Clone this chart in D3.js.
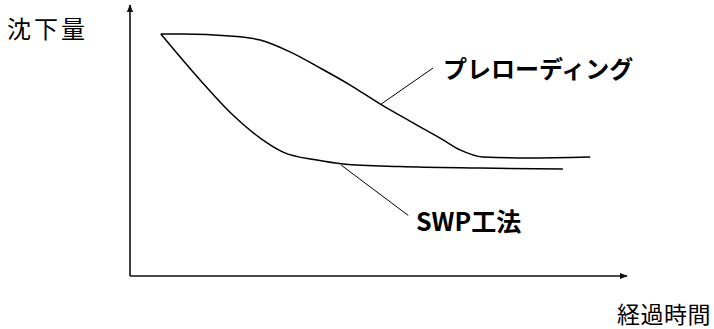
<!DOCTYPE HTML>
<html lang="ja">
<head>
<meta charset="utf-8">
<title>沈下量と経過時間</title>
<style>
html, body {
    margin: 0;
    background: #fff;
 }
svg text {
    font-family: "Noto Sans CJK JP", "Noto Sans", sans-serif;
    fill: #000;
 }
.curve {
    fill: none;
    stroke: #000;
    stroke-width: 1.5;
 }
.leader {
    stroke: #000;
    stroke-width: 1;
 }
.axis-line {
    stroke: #111;
    stroke-width: 1.6;
 }
</style>
</head>
<body>

<script src="https://cdnjs.cloudflare.com/ajax/libs/d3/7.8.5/d3.min.js"></script>
<script>
// data: time (0-100) vs settlement (0-100, grows downwards)
const preloadTime = [6.2, 10.7, 20.1, 26.2, 32.2, 38.2, 44.3, 50.3, 56.3, 62.4, 66.4, 71.0, 79.9, 92.6];
const preloadSettle = [0, 0, 0.8, 2.5, 7.4, 14.0, 21.1, 28.9, 36.0, 43.0, 47.9, 50.8, 51.2, 50.8];

const swpTime = [6.2, 14.1, 20.7, 26.2, 30.8, 37.6, 42.9, 54.3, 70.4, 87.1];
const swpSettle = [0, 19.0, 33.5, 43.0, 48.8, 52.1, 53.7, 54.8, 55.4, 55.8];

const seriesNames = ['プレローディング', 'SWP工法'];
const axisTitles = ['沈下量', '経過時間'];

// leader lines: [time, settle] on curve -> [time, settle] at label
const leaderFrom = [[50.3, 29.3], [42.5, 54.2]];
const leaderTo = [[61.0, 14.0], [56.0, 75.0]];

const width = 714, height = 329;
const x0 = 130, x1 = 627, yTop = 34, yBottom = 276;

const x = d3.scaleLinear().domain([0, 100]).range([x0, x1]);
const y = d3.scaleLinear().domain([0, 100]).range([yTop, yBottom]);

const svg = d3.select('body').append('svg')
  .attr('width', width)
  .attr('height', height);

svg.append('defs').append('marker')
  .attr('id', 'arrow')
  .attr('viewBox', '0 0 10 10')
  .attr('refX', 9).attr('refY', 5)
  .attr('markerWidth', 5).attr('markerHeight', 5)
  .attr('orient', 'auto')
  .append('path')
  .attr('d', 'M0,1 L10,5 L0,9 Z')
  .attr('fill', '#111');

// axes
svg.append('line').attr('class', 'axis-line')
  .attr('x1', x0).attr('y1', yBottom)
  .attr('x2', x0).attr('y2', 5)
  .attr('marker-end', 'url(#arrow)');
svg.append('line').attr('class', 'axis-line')
  .attr('x1', x0).attr('y1', yBottom)
  .attr('x2', x1).attr('y2', yBottom)
  .attr('marker-end', 'url(#arrow)');

const line = d3.line()
  .x(d => x(d[0]))
  .y(d => y(d[1]))
  .curve(d3.curveMonotoneX);

const series = [
  d3.zip(preloadTime, preloadSettle),
  d3.zip(swpTime, swpSettle)
];

svg.selectAll('path.curve')
  .data(series)
  .enter().append('path')
  .attr('class', 'curve')
  .attr('d', line);

svg.selectAll('line.leader')
  .data(leaderFrom)
  .enter().append('line')
  .attr('class', 'leader')
  .attr('x1', d => x(d[0])).attr('y1', d => y(d[1]))
  .attr('x2', (d, i) => x(leaderTo[i][0])).attr('y2', (d, i) => y(leaderTo[i][1]));

// series labels
svg.append('text')
  .attr('x', 443).attr('y', 67)
  .attr('dominant-baseline', 'central')
  .style('font-size', '24px').style('font-weight', 'bold')
  .text(seriesNames[0]);
svg.append('text')
  .attr('x', 416).attr('y', 220)
  .attr('dominant-baseline', 'central')
  .style('font-size', '25px').style('font-weight', 'bold')
  .text(seriesNames[1]);

// axis titles
svg.append('text')
  .attr('x', 7).attr('y', 27)
  .attr('dominant-baseline', 'central')
  .style('font-size', '24px').style('letter-spacing', '3px')
  .text(axisTitles[0]);
svg.append('text')
  .attr('x', 711).attr('y', 313)
  .attr('text-anchor', 'end')
  .attr('dominant-baseline', 'central')
  .style('font-size', '23px').style('letter-spacing', '0.5px')
  .text(axisTitles[1]);
</script>
</body>
</html>
